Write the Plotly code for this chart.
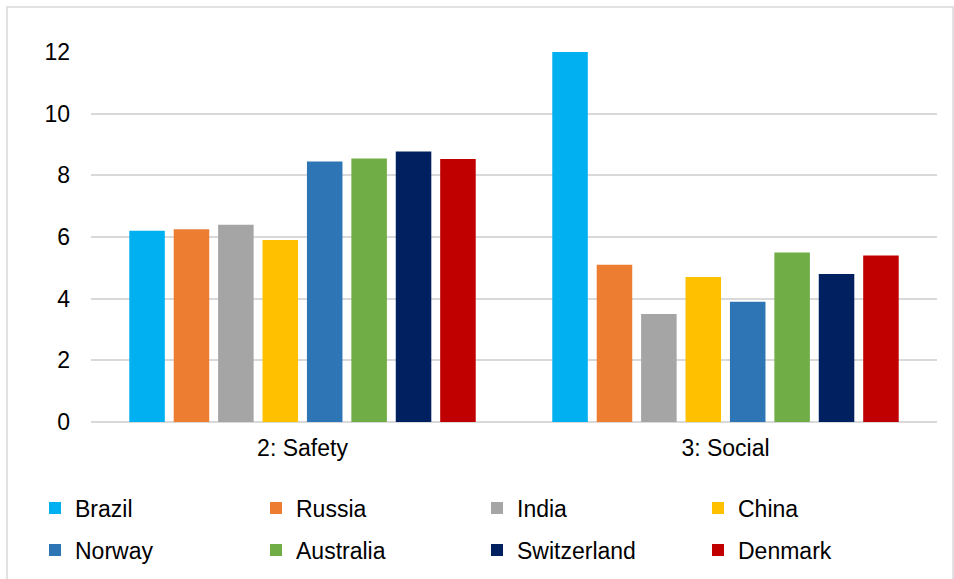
import plotly.graph_objects as go

categories = ["2: Safety", "3: Social"]
countries = ["Brazil", "Russia", "India", "China", "Norway", "Australia", "Switzerland", "Denmark"]
colors = ["#00B0F0", "#ED7D31", "#A5A5A5", "#FFC000", "#2E75B6", "#70AD47", "#002060", "#C00000"]
safety = [6.2, 6.25, 6.4, 5.9, 8.45, 8.55, 8.77, 8.53]
social = [12.0, 5.1, 3.5, 4.7, 3.9, 5.5, 4.8, 5.4]

fig = go.Figure()
for i, c in enumerate(countries):
    fig.add_trace(go.Bar(
        name=c, x=categories, y=[safety[i], social[i]],
        marker=dict(color=colors[i], line=dict(width=0)),
        legend="legend" if i < 4 else "legend2",
    ))

FONT = "Liberation Sans, Arial, sans-serif"
FS = 23
L, R, T, B = 91, 17, 52, 157
W, H = 954, 579
pw, ph = W - L - R, H - T - B

def px_x(p):
    return (p - L) / pw

def px_y(p):
    return (H - B - p) / ph

leg_common = dict(orientation="h", x=px_x(35), xanchor="left", yanchor="middle",
                  entrywidth=176, font=dict(size=FS, family=FONT), traceorder="normal",
                  bgcolor="rgba(0,0,0,0)")

fig.update_layout(
    width=W, height=H,
    margin=dict(l=L, r=R, t=T, b=B, autoexpand=False),
    paper_bgcolor="white", plot_bgcolor="white",
    barmode="group", bargap=0.16, bargroupgap=0.2,
    font=dict(family=FONT, size=FS, color="#000000"),
    xaxis=dict(showgrid=False, showline=False, ticks="", tickfont=dict(size=FS),
               ticklabelstandoff=10),
    yaxis=dict(range=[0, 12], dtick=2, showgrid=True, gridcolor="#D9D9D9", gridwidth=1.5,
               zeroline=True, zerolinecolor="#D9D9D9", zerolinewidth=1.5,
               showline=False, ticks="", ticklabelstandoff=20, tickfont=dict(size=FS)),
    showlegend=True,
    legend=dict(y=px_y(508), **leg_common),
    legend2=dict(y=px_y(550), **leg_common),
    shapes=[dict(type="rect", xref="paper", yref="paper",
                 x0=px_x(7), x1=px_x(953), y0=px_y(595), y1=px_y(7),
                 line=dict(color="#D9D9D9", width=1.5), layer="below")],
)

fig.write_html("out.html")
